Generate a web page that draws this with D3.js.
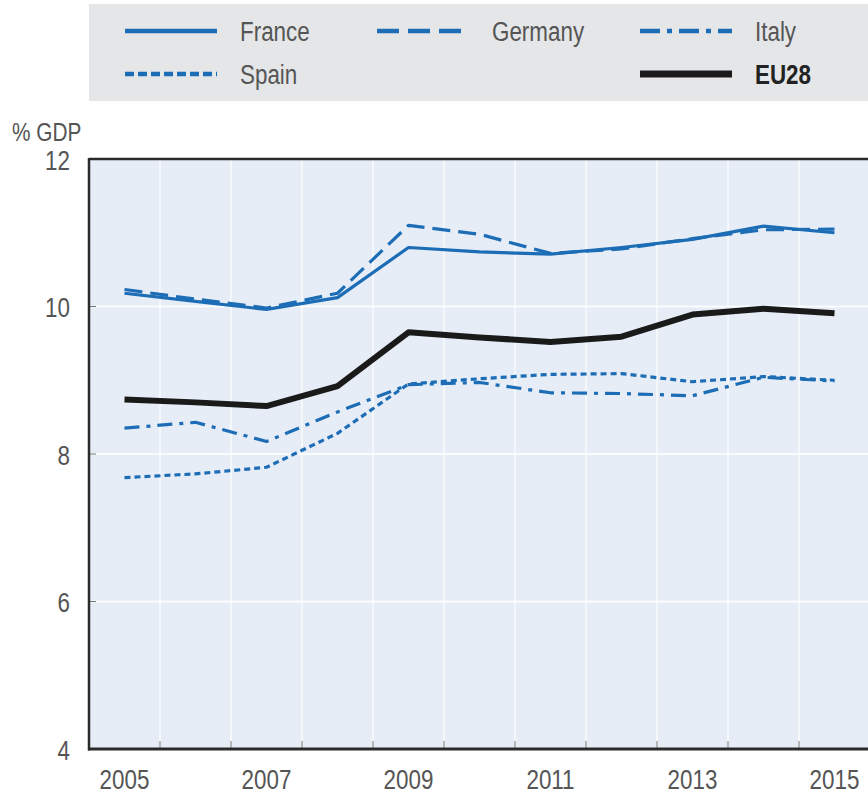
<!DOCTYPE html>
<html><head><meta charset="utf-8">
<script src="https://cdn.jsdelivr.net/npm/d3@7"></script>
<style>
html,body{margin:0;padding:0;background:#fff;}
svg{display:block;}
text{font-family:"Liberation Sans",Arial,sans-serif;fill:#555;}
</style></head>
<body>
<svg id="chart" width="868" height="802"></svg>
<script>
const years = [2005,2006,2007,2008,2009,2010,2011,2012,2013,2014,2015];
const xTickLabels = ["2005","2007","2009","2011","2013","2015"];
const yTicks = [4,6,8,10,12];
const france  = [10.18,10.07,9.96,10.12,10.80,10.74,10.71,10.80,10.91,11.09,11.00];
const germany = [10.23,10.10,9.98,10.18,11.10,10.98,10.72,10.78,10.92,11.04,11.05];
const italy   = [8.35,8.43,8.17,8.57,8.94,8.97,8.83,8.82,8.79,9.04,8.99];
const spain   = [7.68,7.73,7.82,8.28,8.95,9.02,9.08,9.09,8.98,9.05,9.00];
const eu28    = [8.74,8.70,8.65,8.92,9.65,9.58,9.52,9.59,9.89,9.97,9.91];

const series = [
  {name:"France",  values:france,  color:"#1c6db5", width:3.2, dash:null},
  {name:"Germany", values:germany, color:"#1c6db5", width:3.2, dash:"18,8"},
  {name:"Italy",   values:italy,   color:"#1c6db5", width:3.2, dash:"15,7,4,7"},
  {name:"Spain",   values:spain,   color:"#1c6db5", width:3.2, dash:"6,4"},
  {name:"EU28",    values:eu28,    color:"#1a1a1a", width:6,   dash:null}
];

const SX = 0.8, FS = 28;
const svg = d3.select("#chart");
const L = 89, R = 870, T = 159, B = 749;

const x = d3.scaleBand().domain(years).range([L, R]).padding(0);
const y = d3.scaleLinear().domain([4,12]).range([B, T]);
const cx = d => x(d) + x.bandwidth()/2;

function ctext(px, py, str, opts={}) {
  const t = svg.append("text")
    .attr("transform", `translate(${px},${py}) scale(${SX},1)`)
    .attr("font-size", opts.size || FS)
    .attr("text-anchor", opts.anchor || "start")
    .attr("font-weight", opts.weight || "normal")
    .style("fill", opts.fill || "#555")
    .text(str);
  return t;
}

// legend
svg.append("rect").attr("x",89).attr("y",4).attr("width",779).attr("height",97).attr("fill","#e4e6e8");
const legendItems = [
  {s:series[0], lx:125, ly:31},
  {s:series[1], lx:377, ly:31},
  {s:series[2], lx:640, ly:31},
  {s:series[3], lx:125, ly:74},
  {s:series[4], lx:640, ly:74}
];
legendItems.forEach(it=>{
  svg.append("line").attr("x1",it.lx).attr("x2",it.lx+92).attr("y1",it.ly).attr("y2",it.ly)
    .attr("stroke",it.s.color).attr("stroke-width", it.s.name==="EU28"?7:4.5)
    .attr("stroke-dasharray", it.s.name==="Germany"?"22,9":it.s.name==="Italy"?"20,7,5,7":it.s.name==="Spain"?"9,4":null);
  ctext(it.lx+115, it.ly+10, it.s.name, {
    weight: it.s.name==="EU28"?"bold":"normal",
    fill: it.s.name==="EU28"?"#222":"#555"
  });
});

// plot background
svg.append("rect").attr("x",L).attr("y",T).attr("width",R-L).attr("height",B-T).attr("fill","#e7edf6");

// horizontal gridlines
svg.append("g").selectAll("line").data(yTicks.filter(d=>d>4 && d<12)).join("line")
  .attr("x1",L).attr("x2",R).attr("y1",d=>y(d)).attr("y2",d=>y(d))
  .attr("stroke","#fff").attr("stroke-width",1.5);
// vertical gridlines at band boundaries
svg.append("g").selectAll("line").data(years.slice(1)).join("line")
  .attr("x1",d=>x(d)).attr("x2",d=>x(d)).attr("y1",T).attr("y2",B)
  .attr("stroke","#fff").attr("stroke-width",1.2);

// x axis
const xAxis = d3.axisBottom(x).tickValues(years).tickSize(0).tickFormat(d=>xTickLabels.includes(String(d))?String(d):"");
const gx = svg.append("g").attr("transform",`translate(0,${B})`).call(xAxis);
gx.select(".domain").remove();
gx.selectAll("text").attr("font-size",FS).attr("dy",0).attr("y",40)
  .attr("transform",`scale(${SX},1)`).style("fill","#555")
  .style("font-family",'"Liberation Sans",Arial,sans-serif');
// small inward ticks at band boundaries
svg.append("g").selectAll("line").data(years.slice(1)).join("line")
  .attr("x1",d=>x(d)).attr("x2",d=>x(d)).attr("y1",B).attr("y2",B-8)
  .attr("stroke","#777").attr("stroke-width",1);

// y axis
const yAxis = d3.axisLeft(y).tickValues(yTicks).tickSize(0).tickFormat(d3.format("d"));
const gy = svg.append("g").attr("transform",`translate(${L},0)`).call(yAxis);
gy.select(".domain").remove();
gy.selectAll("text").attr("font-size",FS).attr("x",-19/SX).attr("dy","0.36em")
  .attr("transform",`scale(${SX},1)`).style("fill","#555")
  .style("font-family",'"Liberation Sans",Arial,sans-serif');
svg.append("g").selectAll("line").data(yTicks.filter(d=>d>4 && d<12)).join("line")
  .attr("x1",L).attr("x2",L+7).attr("y1",d=>y(d)).attr("y2",d=>y(d))
  .attr("stroke","#777").attr("stroke-width",1);

ctext(12, 141, "% GDP", {size:26});

// lines
const line = d3.line().x((d,i)=>cx(years[i])).y(d=>y(d));
series.forEach(s=>{
  svg.append("path").datum(s.values).attr("d",line)
    .attr("fill","none").attr("stroke",s.color).attr("stroke-width",s.width)
    .attr("stroke-dasharray",s.dash).attr("stroke-linejoin","round");
});

// frame
svg.append("line").attr("x1",L).attr("x2",R).attr("y1",T).attr("y2",T).attr("stroke","#2a2a2a").attr("stroke-width",2.5);
svg.append("line").attr("x1",L).attr("x2",L).attr("y1",T-1).attr("y2",B+1.5).attr("stroke","#2a2a2a").attr("stroke-width",2.5);
svg.append("line").attr("x1",L-1).attr("x2",R).attr("y1",B).attr("y2",B).attr("stroke","#2a2a2a").attr("stroke-width",3);
</script>
</body></html>
